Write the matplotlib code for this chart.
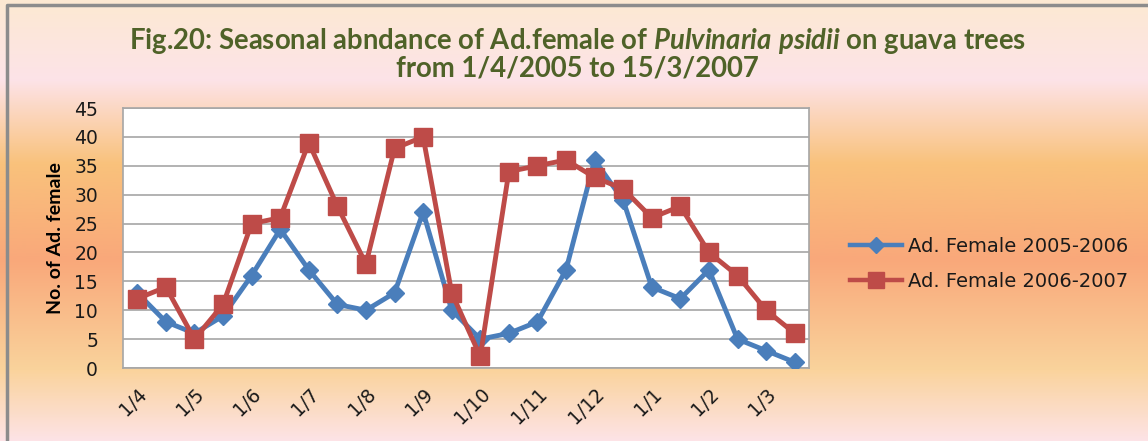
import numpy as np
import matplotlib
matplotlib.use("Agg")
import matplotlib.pyplot as plt
from matplotlib.colors import LinearSegmentedColormap
from matplotlib.lines import Line2D

# half-monthly samples, 1/4 .. 15/3
tick_labels = ["1/4", "1/5", "1/6", "1/7", "1/8", "1/9",
               "1/10", "1/11", "1/12", "1/1", "1/2", "1/3"]
female_2005_2006 = [13, 8, 6, 9, 16, 24, 17, 11, 10, 13, 27, 10,
                    5, 6, 8, 17, 36, 29, 14, 12, 17, 5, 3, 1]
female_2006_2007 = [12, 14, 5, 11, 25, 26, 39, 28, 18, 38, 40, 13,
                    2, 34, 35, 36, 33, 31, 26, 28, 20, 16, 10, 6]

plt.rcParams["mathtext.fontset"] = "custom"
plt.rcParams["mathtext.rm"] = "Lato:bold"
plt.rcParams["mathtext.it"] = "Lato:italic:bold"
plt.rcParams["mathtext.bf"] = "Lato:bold"

W, H = 1148, 441
fig = plt.figure(figsize=(W / 100, H / 100), dpi=100)

# background gradient (top to bottom)
bg = fig.add_axes([0, 0, 1, 1], zorder=0)
stops = [(0.0, "#fce9d2"), (0.18, "#fde3e8"), (0.37, "#f9c27c"),
         (0.59, "#f9a87a"), (0.84, "#fad39c"), (1.0, "#fde3e6")]
cmap = LinearSegmentedColormap.from_list("bg", stops)
grad = np.linspace(0, 1, 256).reshape(-1, 1)
bg.imshow(grad, aspect="auto", cmap=cmap, extent=[0, 1, 1, 0])
bg.set_xlim(0, 1)
bg.set_ylim(1, 0)
bg.axis("off")
# outer frame (left + top)
bg.plot([7 / W, 7 / W, 1], [1, 5 / H, 5 / H], color="#8c8c8c", lw=2.5,
        solid_capstyle="butt")

ax = fig.add_axes([123 / W, 1 - 368 / H, (809 - 123) / W, (368 - 108) / H], zorder=2)
ax.set_facecolor("white")

x = np.arange(len(female_2005_2006))
ax.plot(x, female_2005_2006, color="#4a7ebb", lw=3.5, marker="D", ms=9,
        label="Ad. Female 2005-2006", zorder=3)
ax.plot(x, female_2006_2007, color="#be4b48", lw=3.5, marker="s", ms=13,
        label="Ad. Female 2006-2007", zorder=4)

ax.set_xlim(-0.5, len(x) - 0.5)
ax.set_ylim(0, 45)
ax.set_yticks(range(0, 46, 5))
ax.set_xticks(np.arange(0, len(x), 2))
ax.set_xticklabels(tick_labels, rotation=45, ha="right", rotation_mode="anchor")
ax.tick_params(axis="both", length=0, labelsize=13.5, labelcolor="#1a1a1a")
ax.tick_params(axis="x", pad=12)
ax.tick_params(axis="y", pad=18)
ax.grid(axis="y", color="#a6a6a6", lw=1.2)
ax.set_axisbelow(True)
for s in ax.spines.values():
    s.set_color("#a6a6a6")
    s.set_linewidth(1.2)

ax.set_ylabel("No. of Ad. female", fontsize=14, fontweight="bold",
              family="Lato", labelpad=7)

title_kw = dict(ha="center", va="center", fontsize=19.8, fontweight="bold",
                family="Lato", color="#4f6228")
fig.text(0.503, 1 - 41 / H,
         "Fig.20: Seasonal abndance of Ad.female of $\\mathit{Pulvinaria\\ psidii}$ on guava trees",
         **title_kw)
fig.text(0.503, 1 - 68 / H, "from 1/4/2005 to 15/3/2007", **title_kw)

handles = [Line2D([], [], color="#4a7ebb", lw=3.2, marker="D", ms=8),
           Line2D([], [], color="#be4b48", lw=3.2, marker="s", ms=11)]
fig.legend(handles, ["Ad. Female 2005-2006", "Ad. Female 2006-2007"],
           loc="center left", bbox_to_anchor=(832 / W, 1 - 264 / H),
           frameon=False, fontsize=14, handlelength=2.7, handletextpad=0.3,
           labelspacing=0.85, labelcolor="#1a1a1a")

fig.savefig("out.png", dpi=100)
